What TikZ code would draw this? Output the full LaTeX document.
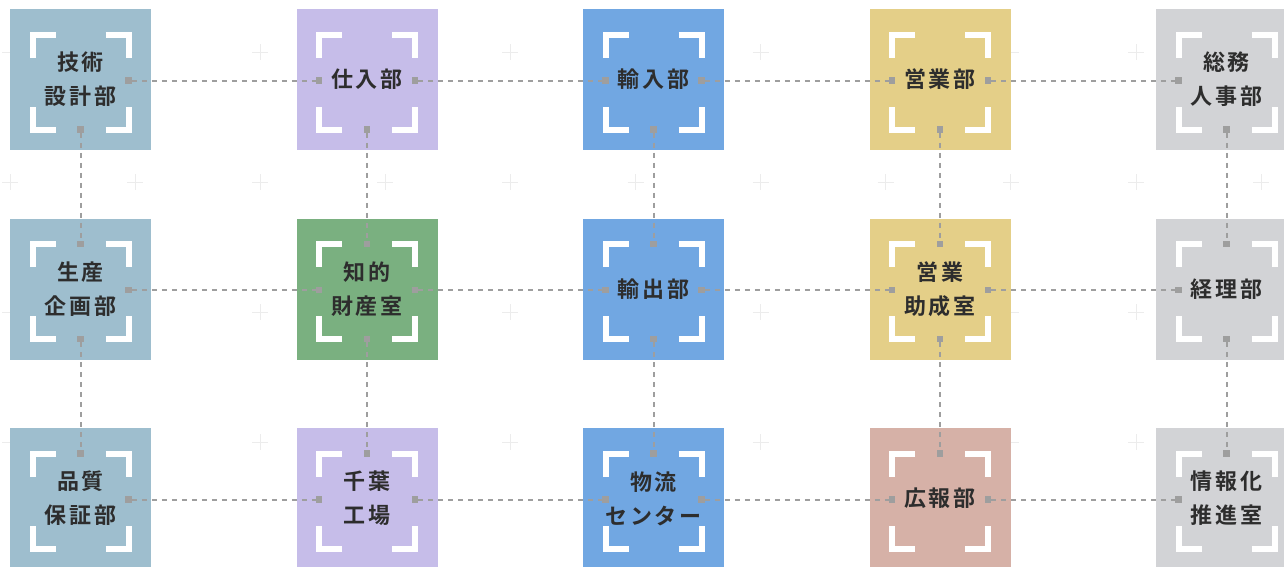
\documentclass[tikz,border=0pt]{standalone}
\usepackage{fontspec}
\usepackage{tikz}
\newfontfamily\deptfont[LetterSpace=12,BoldFont={Noto Sans CJK JP Bold}]{Noto Sans CJK JP}
\definecolor{deptsteel}{RGB}{158,190,206}
\definecolor{deptlilac}{RGB}{198,189,233}
\definecolor{deptblue}{RGB}{113,167,226}
\definecolor{deptyellow}{RGB}{228,207,136}
\definecolor{deptgrey}{RGB}{210,211,214}
\definecolor{deptgreen}{RGB}{122,176,128}
\definecolor{deptpink}{RGB}{214,177,167}
\definecolor{depttext}{RGB}{45,45,45}
\definecolor{linkgrey}{RGB}{158,158,158}
\definecolor{gridgrey}{RGB}{236,236,236}
\tikzstyle{dept_corners}=[
    {path picture={
        \draw[white, line width=6pt, line join=miter]
        ([shift={(-25pt,45pt)}]path picture bounding box.center) --
        ([shift={(-48pt,45pt)}]path picture bounding box.center) --
        ([shift={(-48pt,22pt)}]path picture bounding box.center)
        ([shift={(25pt,45pt)}]path picture bounding box.center) --
        ([shift={(48pt,45pt)}]path picture bounding box.center) --
        ([shift={(48pt,22pt)}]path picture bounding box.center)
        ([shift={(-25pt,-50pt)}]path picture bounding box.center) --
        ([shift={(-48pt,-50pt)}]path picture bounding box.center) --
        ([shift={(-48pt,-27pt)}]path picture bounding box.center)
        ([shift={(25pt,-50pt)}]path picture bounding box.center) --
        ([shift={(48pt,-50pt)}]path picture bounding box.center) --
        ([shift={(48pt,-27pt)}]path picture bounding box.center);
      }
    }
]
\tikzstyle{dept}=[rectangle, minimum size=141pt, inner sep=0pt, align=center,
    text=depttext, font=\deptfont\bfseries\fontsize{22}{34}\selectfont, dept_corners]
\tikzstyle{port}=[rectangle, fill=linkgrey, minimum size=6.5pt, inner sep=0pt]
\tikzstyle{link}=[draw=linkgrey, line width=2pt, dash pattern=on 5pt off 5pt]

\begin{document}
\begin{tikzpicture}[x=1pt, y=-1pt]
\clip (0,0) rectangle (1284,566);
% faint background grid
\foreach \gx in {0,...,10}
  \foreach \gy in {0,...,3}
    \draw[gridgrey, line width=0.8pt] (10+125.1*\gx-8,52+130*\gy) -- ++(16,0)
        (10+125.1*\gx,52+130*\gy-8) -- ++(0,16);
% departments
\node[dept, fill=deptsteel] (dep0) at (80.5,79.5) {技術\\設計部};
\node[dept, fill=deptlilac] (dep1) at (367,79.5) {仕入部};
\node[dept, fill=deptblue] (dep2) at (653.5,79.5) {輸入部};
\node[dept, fill=deptyellow] (dep3) at (940,79.5) {営業部};
\node[dept, fill=deptgrey] (dep4) at (1226.5,79.5) {総務\\人事部};
\node[dept, fill=deptsteel] (dep5) at (80.5,289) {生産\\企画部};
\node[dept, fill=deptgreen] (dep6) at (367,289) {知的\\財産室};
\node[dept, fill=deptblue] (dep7) at (653.5,289) {輸出部};
\node[dept, fill=deptyellow] (dep8) at (940,289) {営業\\助成室};
\node[dept, fill=deptgrey] (dep9) at (1226.5,289) {経理部};
\node[dept, fill=deptsteel] (dep10) at (80.5,498.5) {品質\\保証部};
\node[dept, fill=deptlilac] (dep11) at (367,498.5) {千葉\\工場};
\node[dept, fill=deptblue] (dep12) at (653.5,498.5) {物流\\センター};
\node[dept, fill=deptpink] (dep13) at (940,498.5) {広報部};
\node[dept, fill=deptgrey] (dep14) at (1226.5,498.5) {情報化\\推進室};
% ports
\node[port] (dep0e) at ([shift={(48,1)}]dep0.center) {};
\node[port] (dep0s) at ([shift={(0,50)}]dep0.center) {};
\node[port] (dep1w) at ([shift={(-48,1)}]dep1.center) {};
\node[port] (dep1e) at ([shift={(48,1)}]dep1.center) {};
\node[port] (dep1s) at ([shift={(0,50)}]dep1.center) {};
\node[port] (dep2w) at ([shift={(-48,1)}]dep2.center) {};
\node[port] (dep2e) at ([shift={(48,1)}]dep2.center) {};
\node[port] (dep2s) at ([shift={(0,50)}]dep2.center) {};
\node[port] (dep3w) at ([shift={(-48,1)}]dep3.center) {};
\node[port] (dep3e) at ([shift={(48,1)}]dep3.center) {};
\node[port] (dep3s) at ([shift={(0,50)}]dep3.center) {};
\node[port] (dep4w) at ([shift={(-48,1)}]dep4.center) {};
\node[port] (dep4s) at ([shift={(0,50)}]dep4.center) {};
\node[port] (dep5n) at ([shift={(0,-45)}]dep5.center) {};
\node[port] (dep5e) at ([shift={(48,1)}]dep5.center) {};
\node[port] (dep5s) at ([shift={(0,50)}]dep5.center) {};
\node[port] (dep6n) at ([shift={(0,-45)}]dep6.center) {};
\node[port] (dep6w) at ([shift={(-48,1)}]dep6.center) {};
\node[port] (dep6e) at ([shift={(48,1)}]dep6.center) {};
\node[port] (dep6s) at ([shift={(0,50)}]dep6.center) {};
\node[port] (dep7n) at ([shift={(0,-45)}]dep7.center) {};
\node[port] (dep7w) at ([shift={(-48,1)}]dep7.center) {};
\node[port] (dep7e) at ([shift={(48,1)}]dep7.center) {};
\node[port] (dep7s) at ([shift={(0,50)}]dep7.center) {};
\node[port] (dep8n) at ([shift={(0,-45)}]dep8.center) {};
\node[port] (dep8w) at ([shift={(-48,1)}]dep8.center) {};
\node[port] (dep8e) at ([shift={(48,1)}]dep8.center) {};
\node[port] (dep8s) at ([shift={(0,50)}]dep8.center) {};
\node[port] (dep9n) at ([shift={(0,-45)}]dep9.center) {};
\node[port] (dep9w) at ([shift={(-48,1)}]dep9.center) {};
\node[port] (dep9s) at ([shift={(0,50)}]dep9.center) {};
\node[port] (dep10n) at ([shift={(0,-45)}]dep10.center) {};
\node[port] (dep10e) at ([shift={(48,1)}]dep10.center) {};
\node[port] (dep11n) at ([shift={(0,-45)}]dep11.center) {};
\node[port] (dep11w) at ([shift={(-48,1)}]dep11.center) {};
\node[port] (dep11e) at ([shift={(48,1)}]dep11.center) {};
\node[port] (dep12n) at ([shift={(0,-45)}]dep12.center) {};
\node[port] (dep12w) at ([shift={(-48,1)}]dep12.center) {};
\node[port] (dep12e) at ([shift={(48,1)}]dep12.center) {};
\node[port] (dep13n) at ([shift={(0,-45)}]dep13.center) {};
\node[port] (dep13w) at ([shift={(-48,1)}]dep13.center) {};
\node[port] (dep13e) at ([shift={(48,1)}]dep13.center) {};
\node[port] (dep14n) at ([shift={(0,-45)}]dep14.center) {};
\node[port] (dep14w) at ([shift={(-48,1)}]dep14.center) {};
% links
\draw[link] (dep0e) -- (dep1w);
\draw[link] (dep1e) -- (dep2w);
\draw[link] (dep2e) -- (dep3w);
\draw[link] (dep3e) -- (dep4w);
\draw[link] (dep5e) -- (dep6w);
\draw[link] (dep6e) -- (dep7w);
\draw[link] (dep7e) -- (dep8w);
\draw[link] (dep8e) -- (dep9w);
\draw[link] (dep10e) -- (dep11w);
\draw[link] (dep11e) -- (dep12w);
\draw[link] (dep12e) -- (dep13w);
\draw[link] (dep13e) -- (dep14w);
\draw[link] (dep0s) -- (dep5n);
\draw[link] (dep5s) -- (dep10n);
\draw[link] (dep1s) -- (dep6n);
\draw[link] (dep6s) -- (dep11n);
\draw[link] (dep2s) -- (dep7n);
\draw[link] (dep7s) -- (dep12n);
\draw[link] (dep3s) -- (dep8n);
\draw[link] (dep8s) -- (dep13n);
\draw[link] (dep4s) -- (dep9n);
\draw[link] (dep9s) -- (dep14n);
\end{tikzpicture}
\end{document}
